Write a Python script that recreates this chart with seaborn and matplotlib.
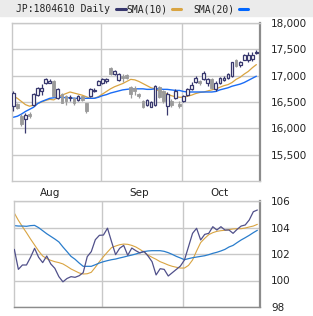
import matplotlib
matplotlib.use("Agg")
import matplotlib.pyplot as plt
from matplotlib.lines import Line2D
from matplotlib.patches import Rectangle
import numpy as np
import seaborn as sns

# daily candles (index = trading day)
opens = [16420, 16470, 16240, 16170, 16280, 16450, 16640, 16700, 16870, 16870,
         16900, 16580, 16660, 16610, 16570, 16580, 16540, 16610, 16480, 16620,
         16700, 16830, 16870, 16900, 17140, 17040, 16920, 17000, 17010, 16790,
         16760, 16660, 16520, 16440, 16410, 16440, 16780, 16710, 16420, 16520,
         16580, 16470, 16520, 16640, 16740, 16880, 16900, 16930, 16870, 16930,
         16740, 16870, 16910, 16950, 16990, 17300, 17200, 17300, 17300, 17320,
         17430]
closes = [16680, 16390, 16080, 16260, 16240, 16655, 16770, 16760, 16930, 16900,
          16610, 16750, 16490, 16520, 16600, 16490, 16610, 16540, 16330, 16740,
          16720, 16900, 16930, 16930, 17030, 17090, 17030, 16950, 16950, 16660,
          16700, 16610, 16410, 16540, 16500, 16810, 16600, 16520, 16660, 16450,
          16710, 16420, 16610, 16740, 16830, 16960, 16860, 17060, 16930, 16770,
          16870, 16960, 16960, 17030, 17250, 17180, 17250, 17390, 17400, 17400,
          17450]
highs = [16700, 16490, 16270, 16290, 16310, 16680, 16790, 16850, 16960, 16930,
         16910, 16770, 16680, 16630, 16640, 16600, 16640, 16620, 16490, 16760,
         16760, 16910, 16950, 16960, 17170, 17110, 17050, 17030, 17030, 16800,
         16800, 16680, 16540, 16560, 16520, 16830, 16800, 16730, 16690, 16560,
         16740, 16520, 16640, 16760, 16880, 16990, 16920, 17090, 16950, 16960,
         16890, 16980, 16990, 17050, 17260, 17320, 17280, 17410, 17440, 17450,
         17480]
lows = [16320, 16370, 16040, 15910, 16200, 16430, 16620, 16640, 16850, 16860,
        16600, 16560, 16480, 16450, 16520, 16440, 16520, 16510, 16300, 16600,
        16690, 16820, 16850, 16860, 17020, 17020, 16900, 16880, 16930, 16580,
        16630, 16580, 16380, 16420, 16400, 16420, 16580, 16480, 16260, 16400,
        16560, 16380, 16500, 16620, 16720, 16860, 16830, 16910, 16800, 16740,
        16700, 16850, 16890, 16930, 16970, 17160, 17170, 17290, 17260, 17280,
        17410]
sma10 = [16610, 16570, 16510, 16450, 16420, 16440, 16470, 16500, 16530, 16550,
         16540, 16590, 16630, 16660, 16690, 16670, 16650, 16630, 16600, 16570,
         16570, 16600, 16650, 16700, 16750, 16790, 16820, 16850, 16890, 16930,
         16920, 16890, 16850, 16810, 16770, 16750, 16710, 16680, 16650, 16620,
         16600, 16590, 16590, 16610, 16630, 16660, 16680, 16690, 16710, 16730,
         16750, 16780, 16810, 16830, 16870, 16930, 16970, 17030, 17080, 17150,
         17210]
sma20 = [16210, 16230, 16270, 16320, 16360, 16400, 16470, 16510, 16540, 16570,
         16580, 16590, 16590, 16580, 16580, 16570, 16570, 16570, 16570, 16570,
         16570, 16590, 16620, 16640, 16670, 16690, 16710, 16730, 16740, 16750,
         16750, 16750, 16750, 16740, 16740, 16750, 16750, 16740, 16740, 16730,
         16720, 16720, 16700, 16690, 16690, 16690, 16690, 16690, 16690, 16690,
         16700, 16730, 16750, 16770, 16800, 16820, 16840, 16870, 16910, 16950,
         16990]

# lower panel
osc = [102.35, 100.84, 101.17, 101.17, 101.75, 102.43, 101.75, 101.35, 101.85, 101.25,
       100.92, 100.29, 99.9, 100.15, 100.29, 100.24, 100.36, 100.59, 101.8, 102.18,
       103.08, 103.41, 103.43, 103.95, 102.93, 101.95, 102.43, 102.65, 101.9, 102.45,
       102.25, 102.08, 102.2, 101.85, 101.42, 100.42, 100.89, 100.84, 100.34, 100.59,
       100.84, 101.09, 101.55, 102.55, 103.56, 103.94, 103.06, 103.48, 103.56, 104.06,
       103.81, 104.06, 103.81, 103.81, 103.56, 103.86, 104.11, 104.19, 104.57, 105.19,
       105.32]
osc_sma10 = [105.09, 104.54, 104.06, 103.61, 103.13, 102.68, 102.23, 101.85, 101.65, 101.52,
             101.42, 101.35, 101.25, 101.07, 100.87, 100.72, 100.57, 100.49, 100.51, 100.62,
             101.0, 101.42, 101.8, 102.15, 102.48, 102.6, 102.7, 102.75, 102.73, 102.65,
             102.53, 102.35, 102.15, 101.92, 101.75, 101.6, 101.42, 101.3, 101.17, 101.07,
             101.0, 100.94, 100.94, 101.14, 101.55, 102.23, 102.86, 103.18, 103.46, 103.61,
             103.71, 103.76, 103.79, 103.84, 103.89, 103.91, 103.91, 103.96, 104.04, 104.11,
             104.24]
osc_sma20 = [104.14, 104.11, 104.11, 104.09, 104.14, 104.16, 103.99, 103.76, 103.53, 103.33,
             103.13, 102.91, 102.53, 102.18, 101.82, 101.6, 101.32, 101.07, 101.07, 101.07,
             101.19, 101.32, 101.42, 101.5, 101.57, 101.62, 101.7, 101.77, 101.85, 101.92,
             102.0, 102.1, 102.18, 102.23, 102.25, 102.25, 102.25, 102.2, 102.1, 101.97,
             101.82, 101.7, 101.57, 101.65, 101.72, 101.77, 101.82, 101.87, 101.95, 102.05,
             102.13, 102.23, 102.35, 102.53, 102.65, 102.86, 103.06, 103.23, 103.41, 103.61,
             103.79]

month_bounds = [21.65, 41.65]
month_label_pos = [9.06, 31.0, 51.0]
month_labels = ["Aug", "Sep", "Oct"]
price_ticks = [15500, 16000, 16500, 17000, 17500, 18000]
osc_ticks = [98, 100, 102, 104, 106]

navy = "#38386e"
orange = "#d9a441"
blue_top = "#1a6cf5"
blue_bot = "#2a7dcc"
gray = "#9a9a9a"
grid_c = "#c8c8c8"

sns.set_style("white")
plt.rcParams['font.family'] = ['DejaVu Sans']

W, H = 313, 316
fig = plt.figure(figsize=(W / 100, H / 100), dpi=100)

def fx(px):
    return px / W

def fy(py):
    return 1 - py / H

# header band
fig.patches.append(Rectangle((0, fy(16)), 1, 16 / H, transform=fig.transFigure,
                             color="#ebebeb", zorder=0))
fig.text(fx(16), fy(9), "JP:1804610 Daily", family="DejaVu Sans Mono", size=7,
         va="center", color="#222222")
fig.text(fx(126), fy(9), "SMA(10)", family="DejaVu Sans Mono", size=7,
         va="center", color="#222222")
fig.text(fx(193), fy(9), "SMA(20)", family="DejaVu Sans Mono", size=7,
         va="center", color="#222222")
for x0, x1, c in [(116, 126, navy), (172, 181, orange), (239, 248, "#0066ff")]:
    fig.add_artist(Line2D([fx(x0), fx(x1)], [fy(9), fy(9)], transform=fig.transFigure,
                          color=c, lw=2.2))

ax1 = fig.add_axes([fx(12), fy(181), fx(248), 158 / H])
ax2 = fig.add_axes([fx(14), fy(307), fx(246), 106 / H])

idx = np.arange(len(closes))
o = np.array(opens)
c = np.array(closes)
up = c >= o

# candles
ax1.vlines(idx[up], np.array(lows)[up], np.array(highs)[up], color=navy, lw=0.9, zorder=3)
ax1.vlines(idx[~up], np.array(lows)[~up], np.array(highs)[~up], color=gray, lw=0.9, zorder=3)
ax1.bar(idx[up], (c - o)[up], bottom=o[up], width=0.68, facecolor="white",
        edgecolor=navy, linewidth=0.9, zorder=4)
ax1.bar(idx[~up], (o - c)[~up], bottom=c[~up], width=0.68, facecolor=gray,
        edgecolor=gray, linewidth=0.6, zorder=4)

sns.lineplot(x=idx, y=sma10, ax=ax1, color=orange, lw=0.9, zorder=2)
sns.lineplot(x=idx, y=sma20, ax=ax1, color=blue_top, lw=1.0, zorder=2)

sns.lineplot(x=idx, y=osc_sma10, ax=ax2, color=orange, lw=0.8, zorder=2)
sns.lineplot(x=idx, y=osc_sma20, ax=ax2, color=blue_bot, lw=0.9, zorder=2)
sns.lineplot(x=idx, y=osc, ax=ax2, color="#50508a", lw=0.9, zorder=3)

ax1.set_xlim(-0.32, 60.9)
ax1.set_ylim(15000, 18000)
ax2.set_xlim(-0.08, 60.65)
ax2.set_ylim(98, 106)

ax1.set_yticks(price_ticks)
ax1.set_yticklabels([f"{t:,}" for t in price_ticks])
ax2.set_yticks(osc_ticks)
ax2.set_yticklabels([str(t) for t in osc_ticks])

for ax in (ax1, ax2):
    ax.set_xlabel("")
    ax.set_ylabel("")
    ax.set_xticks(month_bounds, minor=True)
    ax.grid(True, axis="x", which="minor", color=grid_c, lw=1)
    ax.grid(True, axis="y", which="major", color=grid_c, lw=1)
    ax.set_axisbelow(True)
    ax.yaxis.tick_right()
    ax.tick_params(axis="y", length=0, pad=8, labelsize=7.5, labelcolor="#222222")
    ax.tick_params(axis="x", which="both", length=0)
    for s in ["left", "top", "bottom"]:
        ax.spines[s].set_color(grid_c)
        ax.spines[s].set_linewidth(1)
    ax.spines["right"].set_color("#8c8c8c")
    ax.spines["right"].set_linewidth(1.6)

ax1.set_xticks(month_label_pos)
ax1.set_xticklabels(month_labels)
ax1.tick_params(axis="x", which="major", pad=5, labelsize=7.5, labelcolor="#222222")
ax2.set_xticks([])
ax2.spines["bottom"].set_color("#8c8c8c")

fig.savefig("out.png", dpi=100)
